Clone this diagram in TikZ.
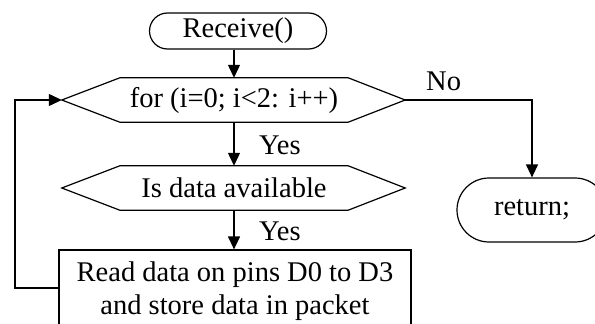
\documentclass[tikz,border=0pt]{standalone}
\usepackage{fontspec}
\setmainfont{Liberation Serif}
\usetikzlibrary{shapes.misc,arrows.meta}
\begin{document}
\begin{tikzpicture}[x=1pt,y=-1pt,
  every node/.style={font=\fontsize{28.5}{33}\selectfont, inner sep=0pt},
  line/.style={line width=1.2pt},
  arr/.style={line width=1.2pt,-{Triangle[length=13pt,width=12pt]}},
  term/.style={draw,line width=1.2pt,rounded rectangle},
  hexbox/.style={minimum width=228pt,minimum height=44pt},
  procbox/.style={draw,line width=1.2pt,minimum width=352pt,minimum height=82pt,align=center},
  lbl/.style={anchor=west}]
\useasboundingbox (0,0) rectangle (595,324);
\clip (0,0) rectangle (595,324);
\fill[white] (0,0) rectangle (595,324);
% terminals
\node[term,minimum width=177pt,minimum height=36pt] (recv) at (238,31) {Receive()};
\node[term,minimum width=150pt,minimum height=64pt] (ret) at (532,210) {return;};
% hexagon 1
\node[hexbox] (for) at (234,100) {for (i=0; i<2: i++)};
\coordinate (forL) at ([xshift=-58pt]for.west);
\coordinate (forR) at ([xshift=57pt]for.east);
\draw[line] (for.north west) -- (for.north east) -- (forR) -- (for.south east) -- (for.south west) -- (forL) -- cycle;
% hexagon 2
\node[hexbox] (avail) at (234,188) {Is data available};
\coordinate (avL) at ([xshift=-58pt]avail.west);
\coordinate (avR) at ([xshift=57pt]avail.east);
\draw[line] (avail.north west) -- (avail.north east) -- (avR) -- (avail.south east) -- (avail.south west) -- (avL) -- cycle;
% process box
\node[procbox] (read) at (235,291) {Read data on pins D0 to D3\\and store data in packet};
% connectors
\draw[arr] (recv.south -| for.north) -- (for.north);
\draw[arr] (for.south) -- (avail.north);
\draw[arr] (avail.south) -- (read.north -| avail.south);
\coordinate (loopA) at (15,288);
\draw[arr] (read.west |- loopA) -- (loopA) -- (loopA |- forL) -- (forL);
\draw[arr] (forR) -| (ret.north);
% labels
\node[lbl] (y1) at (259,145) {Yes};
\node[lbl] (y2) at (259,231) {Yes};
\node[lbl] (no) at (426,81) {No};
\end{tikzpicture}
\end{document}
